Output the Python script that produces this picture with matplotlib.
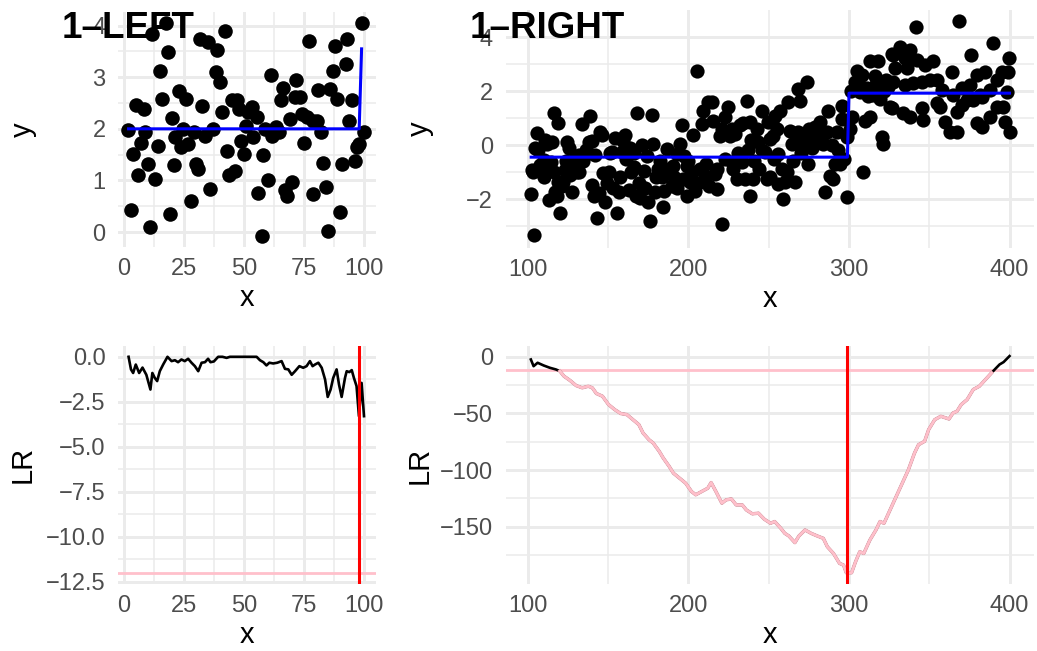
import matplotlib
matplotlib.use("Agg")
import matplotlib.pyplot as plt
import matplotlib.patheffects as pe
import matplotlib.transforms as mtransforms
import numpy as np

plt.rcParams['font.family'] = ['Liberation Sans', 'DejaVu Sans']

# ---------------- data: left segment ----------------
left_x = [1.8, 3.2, 3.9, 4.9, 6, 7.2, 8.3, 9, 10, 11.1, 11.9, 13, 14.3, 15, 16, 17.4,
          18.3, 19.2, 20, 20.8, 21.5, 23, 24, 24.7, 26.1, 26.8, 27.9, 29.3, 30, 31,
          31.7, 32.6, 34, 35.1, 36.1, 37.2, 38.2, 38.9, 40, 40.7, 42.1, 43, 43.9, 44.9,
          46.3, 47.2, 47.9, 49, 50, 50.8, 51.8, 53.2, 53.9, 55.3, 56, 57.4, 58.1, 59,
          59.9, 61.1, 61.9, 63.3, 64.7, 65.3, 66.1, 67.1, 68, 69.2, 70, 71.7, 71.3,
          73.3, 74, 75, 76.1, 77.2, 78.6, 78.9, 80.6, 81, 81.9, 82.8, 84.2, 85.1, 85.8,
          86.9, 87.9, 88.9, 90, 90.7, 92.4, 93.1, 93.8, 94.9, 96.3, 96.9, 98, 99, 100.1]
left_y = [1.97, 0.43, 1.52, 2.47, 1.11, 1.72, 2.39, 1.94, 1.32, 0.10, 3.83, 1.03, 1.66,
          3.12, 2.57, 4.06, 3.48, 0.35, 2.21, 1.29, 1.85, 2.74, 1.65, 2.0, 2.58, 1.71,
          0.61, 1.94, 1.32, 1.23, 3.74, 2.45, 1.87, 3.68, 0.84, 2.0, 3.1, 3.52, 2.90,
          2.32, 3.89, 1.58, 1.10, 2.55, 1.19, 2.55, 2.39, 1.76, 1.52, 2.05, 2.32, 2.42,
          1.84, 2.23, 0.75, -0.08, 1.50, 2.0, 1.0, 3.05, 1.87, 2.03, 1.94, 2.55, 2.79,
          0.81, 0.69, 2.19, 0.97, 2.94, 2.61, 2.61, 2.29, 1.72, 2.23, 3.71, 2.16, 0.74,
          2.16, 2.75, 1.94, 1.34, 0.88, 0.02, 2.77, 3.12, 3.61, 2.57, 0.39, 1.31, 3.26,
          3.74, 2.15, 2.55, 1.37, 1.65, 1.71, 4.05, 1.94]

left_fit_x = [2, 98, 99]
left_fit_y = [2.0, 2.0, 3.55]

left_lr_x = [2, 3, 3.9, 5, 6.4, 7.8, 9.4, 11.1, 11.9, 12.9, 13.9, 15, 16.4, 18.2, 19.9,
             21.3, 22.6, 24, 25.4, 26.8, 28.2, 29.6, 31, 32.4, 33.8, 35.1, 36.1, 37.5,
             39.3, 41.1, 42.8, 44.2, 55.3, 56.7, 58.1, 59.4, 60.6, 62.2, 63.9, 65.7,
             67.1, 68.5, 69.9, 71.3, 73.1, 74.7, 76.1, 77.5, 78.6, 79.6, 81, 82.4, 83.8,
             84.9, 86.1, 87.2, 88.6, 89.6, 90.7, 92.1, 92.8, 93.9, 94.9, 95.8, 96.9,
             97.9, 99, 100]
left_lr_y = [0, -0.7, -0.9, -0.43, -0.9, -0.6, -1.0, -1.82, -0.9, -1.17, -1.35, -0.8,
             -0.43, 0, -0.24, -0.19, -0.3, -0.15, -0.24, -0.11, -0.33, -0.52, -0.8,
             -0.33, -0.3, -0.11, -0.3, -0.26, 0, 0, -0.06, 0, 0, -0.19, -0.3, -0.48,
             -0.33, -0.37, -0.33, -0.24, -0.67, -0.7, -1.0, -0.8, -0.52, -0.61, -0.52,
             -0.24, -0.52, -0.43, -0.33, -0.61, -1.26, -2.23, -1.82, -1.17, -0.7, -1.54,
             -2.23, -1.17, -0.8, -0.85, -0.74, -1.17, -1.63, -3.3, -1.45, -3.3]
left_change = 98
left_threshold = -12

# ---------------- data: right segment ----------------
right_x = [102, 102.5, 103, 104, 104.6, 105.6, 106, 107.7, 108, 109.8, 110, 110.8, 111.8,
           112.9, 113, 114.5, 115, 116, 116, 117, 118, 118.7, 119, 120, 121, 122, 123.3,
           124, 124.3, 125.3, 126, 127.4, 128.5, 129, 130.5, 131.6, 132, 133.6, 134,
           135.7, 136, 137.8, 138.8, 139.9, 140, 141, 142, 143, 144, 145, 146, 147,
           148.2, 149, 150.3, 151, 152.3, 153, 154.4, 155.4, 156.5, 157.5, 158.6, 159,
           160.6, 161, 162.7, 163.8, 164, 165.8, 166, 167, 168, 169, 170, 171, 172, 173,
           174, 175, 176, 177, 178, 179, 180, 181.2, 182, 183.3, 184.3, 185, 186.4,
           187.5, 188, 189.5, 190.6, 191, 192.6, 193, 194.7, 195.8, 196.8, 197, 198.9,
           199, 200, 201, 202, 203, 204, 205.1, 206, 207.2, 208.2, 209.3, 210.3, 211,
           212.4, 213, 214.5, 215, 216.5, 217.6, 218, 219.6, 220.7, 221, 222.8, 223,
           224.8, 225.9, 226.9, 227, 228, 229, 230, 231, 232.1, 233.2, 234, 235.2, 236.3,
           237, 238.3, 238.3, 239, 240.4, 241, 242.5, 243.5, 244, 245.6, 246, 247.7,
           248.7, 249.8, 250.8, 250.8, 251.9, 252.9, 253, 254, 255, 256, 256, 257, 258,
           259.1, 260.2, 261.2, 262.2, 263.3, 264.3, 265.4, 266.4, 267, 268.5, 268.5,
           269.5, 269.5, 270, 271.6, 272.6, 273.7, 274.7, 275, 276.8, 277, 278.9, 279.9,
           281, 282, 283, 284.1, 285.1, 286, 287.2, 288.2, 289.2, 290.3, 291.3, 292.4,
           293, 294.4, 295.5, 295.9, 297, 298.6, 299,
           300.7, 301, 302.1, 303.8, 304.8, 305.9, 307, 308, 309, 310, 311, 312, 313.1,
           313.1, 315, 316, 317, 318.3, 319, 320.4, 321.4, 322, 323, 324, 325.6, 326.6,
           326.5, 327.6, 327.6, 328.6, 331.7, 333.8, 334.8, 334.8, 335.9, 338, 338, 340,
           341.7, 342.1, 345.2, 345.2, 346.3, 347.3, 350.4, 352.5, 354.6, 354.6, 356.7,
           357.7, 359.8, 362.9, 363.9, 365, 367, 367, 368.7, 370.2, 370.2, 373.3, 375.4,
           375.8, 377.4, 379.5, 379.5, 381.6, 382.6, 382.6, 384.7, 387.8, 387.8, 389.9,
           392, 392, 395.1, 396.1, 397.2, 398.2, 399.2, 399.9, 400]
right_y = [-1.8, -0.93, -1.0, -3.33, -0.1, 0.43, -0.2, -0.74, -0.9, -1.17, -0.55, 0.19,
           0.02, -2.04, -0.8, -0.62, 0.12, 1.17, -1.0, -1.73, -1.9, 0.80, -1.36, -2.53,
           -1.5, -1.36, -0.93, -0.6, 0.12, -0.12, -1.1, -1.73, -0.62, -0.5, -0.99, -0.37,
           -1.0, 0.77, -0.6, -0.37, -0.2, 0.12, 1.09, -1.48, 0.15, -1.9, -0.37, -2.72,
           -1.79, 0.49, 0.37, -1.05, -2.1, -1.4, -0.99, -0.3, -0.25, -1.6, 0.25, -2.53,
           -1.73, -1.17, -0.25, 0.15, 0.37, -0.5, -1.67, -0.12, -1.0, -0.80, -0.3, -1.9,
           1.17, -1.42, -1.98, 0, -0.95, -1.6, -0.4, -2.1, -2.8, 1.11, 0.04, -1.75, -1.2,
           -0.89, -0.6, -1.2, -2.3, -1.7, -0.15, -1.0, -0.9, -1.5, -0.77, -1.2, -0.33,
           -1.6, 0.04, 0.74, -1.26, -0.4, -0.77, -1.9, -0.6, -1.38, -1.0, 0.37, -1.69,
           2.75, -1.4, -0.89, 0.78, 1.27, -1.14, -0.7, 1.58, -1.5, 1.58, 0.9, -1.07,
           -1.63, -0.9, 0.35, -2.93, 0.6, 1.02, -0.5, 1.4, 0.35, -0.64, 0.6, -0.9, 0.4,
           -1.26, -0.3, 0.74, -0.64, 0.8, -1.26, 1.64, -0.2, -1.88, 0.84, 0.2, -1.26,
           -0.6, 0.59, 0.1, -0.9, 1.27, -0.2, -0.27, -1.26, 0.84, 0.22, -1.2, 0.84, 0.35,
           -0.5, 1.09, 0.6, -0.33, -1.44, 1.27, -0.9, -2.0, -1.38, -1.0, 1.58, 0.53,
           0.04, -0.58, -1.38, 0.1, 2.07, 0.47, 1.64, 0.22, -0.3, 0, 0.28, 2.32, -0.7,
           0.6, 0.41, -0.1, 0.65, 0.22, 0.1, 0.84, 0.35, 0.04, -1.75, 0.5, 1.27, -1.14,
           0, -1.26, -0.7, 0.47, -0.2, -0.7, 0.96, 1.46, -0.5, -1.94, 0.3,
           0.59, 2.0, 1.02, 2.32, 2.75, 2.32, 1.95, 2.6, -1.0, 0.9, 2.1, 1.8, 1.02,
           3.12, 1.85, 2.55, 2.25, 3.12, 1.7, 0.28, 0.04, 2.0, 2.4, 2.15, 1.4, 3.37,
           1.36, 3.33, 2.35, 2.84, 3.64, 1.17, 3.21, 2.22, 2.84, 3.52, 1.05, 2.28,
           4.38, 3.15, 2.35, 1.36, 0.93, 2.96, 2.41, 3.12, 2.41, 1.54, 1.42,
           2.04, 0.86, 0.49, 2.72, 1.85, 0.49, 1.23, 4.59, 2.1, 1.48, 1.67, 2.22,
           3.33, 1.67, 2.59, 0.8, 1.85, 0.68, 1.79, 2.72, 2.04, 1.05, 3.79,
           2.41, 1.42, 2.72, 1.42, 0.86, 1.98, 2.72, 3.23, 0.49]

right_fit_x = [102, 299, 300, 400]
right_fit_y = [-0.45, -0.45, 1.92, 1.92]

right_lr_x = [101.8, 103.5, 106, 109.8, 113.6, 117.4, 119.9, 122.4, 126.2, 130, 133.8,
              137.6, 140.1, 142.6, 146.4, 150.2, 154, 157.8, 161.6, 165.4, 169.1, 171.7,
              175.4, 178, 181.8, 184.3, 188, 190.6, 194.4, 198.2, 201.9, 204.5, 208.2,
              212, 214.1, 217.1, 220.8, 223.4, 226.7, 229.7, 233.5, 236, 239.8, 243.6,
              247.3, 251.1, 253.7, 257.5, 260, 262.5, 266.3, 268.8, 272.6, 276.4, 280.2,
              284, 286.5, 290.3, 294.1, 296.6, 298.3, 301.6, 304.1, 306.7, 309.2, 313,
              316.8, 319.3, 321.8, 325.6, 329.4, 333.2, 337, 340.8, 343.3, 347.1, 349.6,
              353.4, 357.2, 362.3, 364.8, 367.3, 369.9, 373.6, 377.4, 381.2, 385, 388.8,
              391.2, 393.8, 396.3, 400]
right_lr_y = [-2.4, -8.3, -5.3, -7.7, -9.7, -11.2, -12.7, -17.1, -20.9, -25.4, -27.4,
              -26, -27.4, -32.4, -34.8, -42.2, -46.6, -50.1, -51, -55.5, -59.9, -67.3,
              -73.2, -76.1, -83.5, -89.4, -96.8, -102.7, -107.1, -111.5, -118.9, -121.8,
              -118.9, -116, -111, -118.9, -129.2, -126.3, -125.4, -130.7, -130.7, -135.1,
              -138.6, -138, -143.4, -146.9, -145.4, -151.3, -155.8, -158.1, -164, -158.1,
              -152.8, -155.8, -158.1, -160.2, -167.6, -173.5, -182.3, -183.8, -190.6,
              -190.6, -180.8, -172, -173.5, -161.7, -152.8, -145.4, -146.9, -135.1,
              -123.3, -111.5, -99.7, -85, -77.6, -74.6, -64.3, -55.5, -52.5, -54.9,
              -49.6, -48.1, -42.2, -37.8, -28.9, -26, -20.1, -14.2, -10.6, -6.8, -4.7,
              0.6]
right_change = 299
right_threshold = -12

# ---------------- layout ----------------
W, H = 1037, 651
fig = plt.figure(figsize=(W / 100, H / 100), dpi=100)
fig.patch.set_facecolor('white')


def add_panel(l, r, t, b):
    return fig.add_axes([l / W, 1 - b / H, (r - l) / W, (b - t) / H])


GRID = '#EBEBEB'
TICK_COLOR = '#4D4D4D'


def style(ax, xmaj, xmin, ymaj, ymin, xlim, ylim, ylabel, ylabel_px, yfmt=None):
    ax.set_xlim(*xlim)
    ax.set_ylim(*ylim)
    ax.set_xticks(xmaj)
    ax.set_xticks(xmin, minor=True)
    ax.set_yticks(ymaj)
    ax.set_yticks(ymin, minor=True)
    if yfmt is not None:
        ax.set_yticklabels([yfmt(v) for v in ymaj])
    for s in ax.spines.values():
        s.set_visible(False)
    ax.tick_params(which='both', length=0)
    ax.tick_params(axis='x', labelsize=17, labelcolor=TICK_COLOR, pad=8)
    ax.tick_params(axis='y', labelsize=17, labelcolor=TICK_COLOR, pad=9)
    ax.grid(which='major', color=GRID, lw=2.1)
    ax.grid(which='minor', color=GRID, lw=1.1)
    ax.set_axisbelow(True)
    ax.set_xlabel('x', fontsize=21, labelpad=3)
    ax.set_ylabel(ylabel, fontsize=21)
    # y titles sit in a shared column for each side of the figure
    tr = mtransforms.blended_transform_factory(fig.transFigure, ax.transAxes)
    ax.yaxis.set_label_coords(ylabel_px / W, 0.5, transform=tr)


def minus(v, fmt):
    return (fmt % v).replace('-', '\u2212')


# top-left: data with fitted mean
ax1 = add_panel(118, 376, 11.7, 247)
ax1.scatter(left_x, left_y, s=110, color='black', linewidths=0, zorder=3)
ax1.plot(left_fit_x, left_fit_y, color='blue', lw=2.2, zorder=4)
style(ax1, [0, 25, 50, 75, 100], [12.5, 37.5, 62.5, 87.5],
      [0, 1, 2, 3, 4], [0.5, 1.5, 2.5, 3.5], (-2.4, 105), (-0.29, 4.27), 'y', 37)

# top-right: data with fitted mean
ax2 = add_panel(505.5, 1033.6, 10, 247.6)
ax2.scatter(right_x, right_y, s=105, color='black', linewidths=0, zorder=3)
ax2.plot(right_fit_x, right_fit_y, color='blue', lw=2.2, zorder=4)
style(ax2, [100, 200, 300, 400], [150, 250, 350],
      [-2, 0, 2, 4], [-3, -1, 1, 3], (86, 415), (-3.8, 5.0), 'y', 434,
      yfmt=lambda v: minus(v, '%d'))

# bottom-left: likelihood ratio
ax3 = add_panel(118, 376, 346, 583.5)
lx = np.array(left_lr_x)
ly = np.array(left_lr_y)
ax3.plot(lx, ly, color='black', lw=1.9, zorder=3)
ax3.axhline(left_threshold, color='pink', lw=2.0, zorder=2)
ax3.axvline(left_change, color='red', lw=2.2, zorder=4)
style(ax3, [0, 25, 50, 75, 100], [12.5, 37.5, 62.5, 87.5],
      [0, -2.5, -5, -7.5, -10, -12.5], [-1.25, -3.75, -6.25, -8.75, -11.25],
      (-2.4, 105), (-12.6, 0.6), 'LR', 37, yfmt=lambda v: minus(v, '%.1f'))

# bottom-right: likelihood ratio, pink where below the threshold
ax4 = add_panel(505.5, 1033.6, 346, 584)
rx = np.array(right_lr_x)
ry = np.array(right_lr_y)
ax4.plot(rx, ry, color='black', lw=1.9, zorder=3)
below = np.where(ry <= right_threshold, ry, np.nan)
ax4.plot(rx, below, color='pink', lw=1.8, zorder=3.5,
         path_effects=[pe.Stroke(linewidth=2.5, foreground='#E3A6B0'), pe.Normal()])
ax4.axhline(right_threshold, color='pink', lw=2.0, zorder=2)
ax4.axvline(right_change, color='red', lw=2.2, zorder=4)
style(ax4, [100, 200, 300, 400], [150, 250, 350],
      [0, -50, -100, -150], [-25, -75, -125, -175],
      (86, 415), (-200.5, 9.5), 'LR', 434, yfmt=lambda v: minus(v, '%d'))

# panel tags
fig.text(62 / W, 1 - 37.5 / H, '1\u2013LEFT', fontsize=26.5, fontweight='bold',
         va='baseline', ha='left', zorder=10)
fig.text(470 / W, 1 - 37.5 / H, '1\u2013RIGHT', fontsize=26.5, fontweight='bold',
         va='baseline', ha='left', zorder=10)

fig.savefig('out.png', dpi=100, facecolor='white')
